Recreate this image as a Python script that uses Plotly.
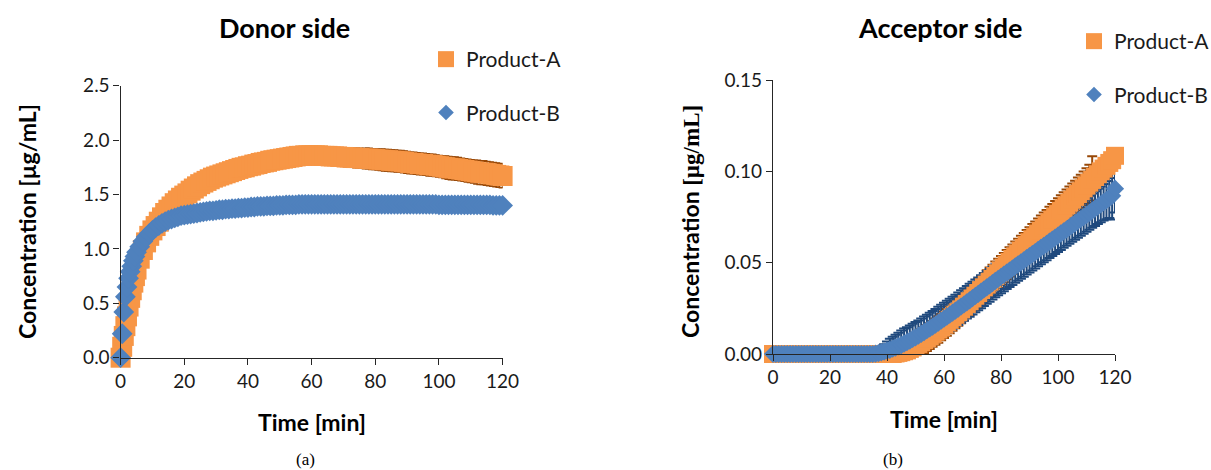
import plotly.graph_objects as go

# ---------------- data ----------------
time_donor = [0, 0.5, 1, 1.5, 2, 2.5, 3, 3.5, 4, 4.5] + list(range(5, 121))

donor_a = [
    0.00, 0.10, 0.20, 0.29, 0.38, 0.47, 0.55, 0.62, 0.69, 0.75,
    0.81, 0.91, 0.99, 1.06, 1.12, 1.17, 1.21, 1.25, 1.29, 1.33,
    1.36, 1.39, 1.42, 1.445, 1.47, 1.49, 1.51, 1.535, 1.555, 1.575,
    1.595, 1.61, 1.625, 1.64, 1.655, 1.665, 1.675, 1.685, 1.695, 1.705,
    1.715, 1.725, 1.735, 1.745, 1.75, 1.76, 1.765, 1.775, 1.78, 1.79,
    1.795, 1.80, 1.81, 1.815, 1.82, 1.825, 1.83, 1.835, 1.84, 1.845,
    1.85, 1.855, 1.855, 1.86, 1.86, 1.86, 1.86, 1.86, 1.855, 1.855,
    1.855, 1.85, 1.85, 1.85, 1.845, 1.845, 1.84, 1.84, 1.84, 1.835,
    1.835, 1.83, 1.83, 1.83, 1.825, 1.825, 1.82, 1.82, 1.815, 1.815,
    1.81, 1.81, 1.805, 1.805, 1.80, 1.795, 1.79, 1.79, 1.785, 1.78,
    1.78, 1.775, 1.77, 1.77, 1.765, 1.76, 1.755, 1.75, 1.745, 1.74,
    1.74, 1.735, 1.73, 1.725, 1.72, 1.715, 1.71, 1.705, 1.70, 1.70,
    1.695, 1.69, 1.685, 1.68, 1.675, 1.67,
]
donor_a_err = [
    0.02, 0.03, 0.03, 0.04, 0.04, 0.04, 0.05, 0.05, 0.05, 0.05,
    0.05, 0.05, 0.05, 0.05, 0.05, 0.05, 0.05, 0.05, 0.05, 0.05,
    0.05, 0.05, 0.05, 0.05, 0.05, 0.05, 0.05, 0.05, 0.05, 0.05,
    0.05, 0.05, 0.05, 0.05, 0.05, 0.05, 0.05, 0.05, 0.05, 0.05,
    0.05, 0.055, 0.055, 0.055, 0.055, 0.06, 0.06, 0.06, 0.06, 0.06,
    0.06, 0.06, 0.06, 0.06, 0.065, 0.065, 0.065, 0.065, 0.065, 0.065,
    0.07, 0.07, 0.07, 0.07, 0.07, 0.07, 0.07, 0.075, 0.075, 0.075,
    0.075, 0.075, 0.08, 0.08, 0.08, 0.08, 0.085, 0.085, 0.085, 0.09,
    0.09, 0.09, 0.095, 0.095, 0.095, 0.095, 0.095, 0.10, 0.10, 0.10,
    0.10, 0.10, 0.10, 0.10, 0.10, 0.10, 0.10, 0.10, 0.10, 0.10,
    0.10, 0.10, 0.10, 0.10, 0.10, 0.10, 0.10, 0.105, 0.105, 0.105,
    0.105, 0.105, 0.105, 0.105, 0.105, 0.105, 0.105, 0.11, 0.11, 0.11,
    0.11, 0.11, 0.11, 0.11, 0.11, 0.11,
]
donor_b = [
    0.00, 0.22, 0.42, 0.56, 0.65, 0.73, 0.79, 0.84, 0.89, 0.93,
    0.97, 1.02, 1.07, 1.11, 1.14, 1.17, 1.195, 1.215, 1.235, 1.25,
    1.265, 1.275, 1.285, 1.295, 1.305, 1.31, 1.315, 1.32, 1.325, 1.33,
    1.335, 1.34, 1.345, 1.35, 1.35, 1.355, 1.36, 1.36, 1.365, 1.365,
    1.37, 1.37, 1.375, 1.375, 1.38, 1.38, 1.385, 1.385, 1.39, 1.39,
    1.39, 1.395, 1.395, 1.395, 1.40, 1.40, 1.40, 1.405, 1.405, 1.405,
    1.405, 1.41, 1.41, 1.41, 1.41, 1.41, 1.41, 1.41, 1.41, 1.41,
    1.41, 1.41, 1.41, 1.41, 1.41, 1.41, 1.41, 1.41, 1.41, 1.41,
    1.41, 1.41, 1.41, 1.41, 1.41, 1.41, 1.41, 1.41, 1.41, 1.41,
    1.41, 1.41, 1.41, 1.41, 1.41, 1.41, 1.41, 1.41, 1.41, 1.41,
    1.41, 1.41, 1.41, 1.41, 1.41, 1.405, 1.405, 1.405, 1.405, 1.405,
    1.405, 1.405, 1.405, 1.405, 1.405, 1.405, 1.405, 1.405, 1.405, 1.405,
    1.405, 1.405, 1.40, 1.40, 1.40, 1.40,
]
donor_b_err = [
    0.01, 0.02, 0.02, 0.03, 0.03, 0.03, 0.03, 0.03, 0.03, 0.03,
] + [0.04] * 116

time_acc = list(range(0, 121))

acc_a = [0.0] * 43 + [
    0.0003, 0.0006, 0.001, 0.0015, 0.002, 0.0028, 0.0036,
    0.0045, 0.0055, 0.0065, 0.0076, 0.0087, 0.0098, 0.011, 0.0122, 0.0134, 0.0147,
    0.016, 0.0173, 0.0187, 0.0201, 0.0215, 0.0229, 0.0244, 0.0259, 0.0274, 0.0289,
    0.0304, 0.0319, 0.0334, 0.035, 0.0365, 0.038, 0.0396, 0.0411, 0.0427, 0.0442,
    0.0458, 0.0473, 0.0489, 0.0504, 0.052, 0.0535, 0.055, 0.0566, 0.0581, 0.0597,
    0.0612, 0.0628, 0.0643, 0.0659, 0.0674, 0.069, 0.0705, 0.0721, 0.0736, 0.0752,
    0.0767, 0.0783, 0.0798, 0.0814, 0.0829, 0.0845, 0.086, 0.0876, 0.0891, 0.0907,
    0.0922, 0.0938, 0.0953, 0.0969, 0.0984, 0.1, 0.1015, 0.103, 0.1046, 0.1061,
    0.1085,
]
acc_a_err = [0.0] * 45 + [
    0.001, 0.002, 0.003, 0.004, 0.005, 0.006, 0.0065,
    0.007, 0.007, 0.007, 0.007, 0.007, 0.0072, 0.0072, 0.0072, 0.0073,
    0.0073, 0.0073, 0.0074, 0.0074, 0.0074, 0.0075, 0.0075, 0.0075, 0.0076, 0.0076,
    0.0076, 0.0077, 0.0077, 0.0077, 0.0078, 0.0078, 0.0078, 0.0079, 0.0079, 0.0079,
    0.008, 0.008, 0.008, 0.008, 0.0081, 0.0081, 0.0081, 0.0082, 0.0082, 0.0082,
    0.0083, 0.0083, 0.0083, 0.0084, 0.0084, 0.0084, 0.0085, 0.0085, 0.0085, 0.0086,
    0.0086, 0.0087, 0.0087, 0.0088, 0.0088, 0.0089, 0.009, 0.009, 0.0092, 0.0095,
    0.0098, 0.013,
]
acc_b = [0.0] * 36 + [
    0.0002, 0.0005, 0.0009, 0.0013, 0.0018, 0.0023, 0.0029, 0.0035, 0.0042, 0.0049,
    0.0057, 0.0065, 0.0073, 0.0082, 0.0091, 0.010, 0.011, 0.012, 0.013, 0.014,
    0.015, 0.016, 0.0171, 0.0182, 0.0193, 0.0204, 0.0215, 0.0226, 0.0237, 0.0248,
    0.026, 0.0271, 0.0283, 0.0294, 0.0306, 0.0318, 0.0329, 0.0341, 0.0353, 0.0365,
    0.0376, 0.0388, 0.040, 0.0411, 0.0423, 0.0434, 0.0446, 0.0457, 0.0468, 0.048,
    0.0491, 0.0502, 0.0513, 0.0525, 0.0536, 0.0547, 0.0558, 0.057, 0.0581, 0.0592,
    0.0603, 0.0615, 0.0626, 0.0637, 0.0648, 0.066, 0.0671, 0.0682, 0.0694, 0.0705,
    0.0716, 0.0728, 0.0739, 0.075, 0.0762, 0.0773, 0.0785, 0.0796, 0.0808, 0.0819,
    0.0831, 0.0842, 0.0854, 0.0866, 0.0905,
]
acc_b_err = [0.0] * 36 + [
    0.001, 0.002, 0.003, 0.004, 0.005, 0.006, 0.0065, 0.007, 0.0075, 0.008,
    0.0082, 0.0082, 0.0083, 0.0083, 0.0084, 0.0084, 0.0085, 0.0085, 0.0085, 0.0086,
    0.0086, 0.0086, 0.0087, 0.0087, 0.0087, 0.0088, 0.0088, 0.0088, 0.0088, 0.0089,
    0.0089, 0.0089, 0.0089, 0.009, 0.009, 0.009, 0.009, 0.009, 0.009, 0.009,
    0.009, 0.009, 0.009, 0.009, 0.009, 0.009, 0.009, 0.009, 0.009, 0.009,
    0.009, 0.009, 0.009, 0.009, 0.009, 0.009, 0.009, 0.009, 0.009, 0.009,
    0.009, 0.009, 0.009, 0.009, 0.009, 0.009, 0.009, 0.009, 0.009, 0.009,
    0.0091, 0.0091, 0.0092, 0.0092, 0.0093, 0.0093, 0.0094, 0.0095, 0.0096, 0.0098,
    0.010, 0.0105, 0.011, 0.013, 0.013,
]

series_names = ["Product-A", "Product-B"]
x_ticks = [0, 20, 40, 60, 80, 100, 120]
donor_y_ticks = [0.0, 0.5, 1.0, 1.5, 2.0, 2.5]
acc_y_ticks = [0.00, 0.05, 0.10, 0.15]

# ---------------- styling ----------------
W, H = 1211, 470
ORANGE = "#F79646"
BLUE = "#4F81BD"
ORANGE_DARK = "#984807"
BLUE_DARK = "#1F497D"
SANS = "Lato"
SERIF = "Liberation Serif"
AX = "#262626"


def px_x(p):
    return p / W


def px_y(p):
    return 1 - p / H


fig = go.Figure()


def add_panel(xa, ya, t, a, aerr, b, berr, sa, sb, legend_name, eth, ew):
    # error bars first (below all markers)
    for vals, errs, col in ((a, aerr, ORANGE_DARK), (b, berr, BLUE_DARK)):
        fig.add_trace(go.Scatter(
            x=t, y=vals, mode="markers", xaxis=xa, yaxis=ya,
            marker=dict(size=1, color="rgba(0,0,0,0)"),
            error_y=dict(type="data", array=errs, visible=True,
                         color=col, thickness=eth, width=ew),
            showlegend=False, hoverinfo="skip", cliponaxis=False,
        ))
    fig.add_trace(go.Scatter(
        x=t, y=a, mode="markers", xaxis=xa, yaxis=ya, name=series_names[0],
        marker=dict(symbol="square", size=sa, color=ORANGE, line=dict(width=0)),
        showlegend=False, cliponaxis=False,
    ))
    fig.add_trace(go.Scatter(
        x=t, y=b, mode="markers", xaxis=xa, yaxis=ya, name=series_names[1],
        marker=dict(symbol="diamond", size=sb, color=BLUE, line=dict(width=0)),
        showlegend=False, cliponaxis=False,
    ))
    # legend entries
    fig.add_trace(go.Scatter(
        x=[None], y=[None], mode="markers", xaxis=xa, yaxis=ya, name=series_names[0],
        marker=dict(symbol="square", size=16, color=ORANGE, line=dict(width=0)),
        legend=legend_name, legendgroup=legend_name + "a", showlegend=True,
    ))
    fig.add_trace(go.Scatter(
        x=[None], y=[None], mode="markers", xaxis=xa, yaxis=ya, name=series_names[1],
        marker=dict(symbol="diamond", size=12, color=BLUE, line=dict(width=0)),
        legend=legend_name, legendgroup=legend_name + "b", showlegend=True,
    ))


add_panel("x", "y", time_donor, donor_a, donor_a_err, donor_b, donor_b_err, 20, 16,
          "legend", 1.3, 4)
add_panel("x2", "y2", time_acc, acc_a, acc_a_err, acc_b, acc_b_err, 18, 14,
          "legend2", 2, 5)

axis_common = dict(showline=True, linecolor=AX, linewidth=1.3, ticks="outside",
                   tickcolor=AX, tickwidth=1.3, ticklen=6, showgrid=False,
                   zeroline=False, automargin=False,
                   tickfont=dict(family=SANS, size=19, color="#1a1a1a"))

legend_common = dict(bgcolor="rgba(0,0,0,0)", borderwidth=0, tracegroupgap=23,
                     font=dict(family=SANS, size=21, color="#1a1a1a"),
                     xanchor="left", yanchor="top", itemclick=False)

fig.update_layout(
    width=W, height=H,
    margin=dict(l=0, r=0, t=0, b=0, autoexpand=False),
    paper_bgcolor="white", plot_bgcolor="white",
    xaxis=dict(domain=[px_x(120.6), px_x(502.6)], range=[0, 120], tickvals=x_ticks,
               anchor="y", **axis_common),
    yaxis=dict(domain=[px_y(357.7), px_y(85.7)], range=[0, 2.5], tickvals=donor_y_ticks,
               tickformat=".1f", anchor="x", **axis_common),
    xaxis2=dict(domain=[px_x(773), px_x(1115)], range=[0, 120], tickvals=x_ticks,
                anchor="y2", **axis_common),
    yaxis2=dict(domain=[px_y(354), px_y(80)], range=[0, 0.15], tickvals=acc_y_ticks,
                tickformat=".2f", anchor="x2", **axis_common),
    legend=dict(x=px_x(426), y=px_y(39), **legend_common),
    legend2=dict(x=px_x(1074), y=px_y(21), **legend_common),
    showlegend=True,
)

annotations = [
    dict(text="<b>Donor side</b>", x=px_x(284), y=px_y(28), font=dict(family=SANS, size=27, color="black")),
    dict(text="<b>Acceptor side</b>", x=px_x(940), y=px_y(28), font=dict(family=SANS, size=27, color="black")),
    dict(text="<b>Concentration [µg/mL]</b>", x=px_x(27), y=px_y(222), textangle=-90,
         font=dict(family=SANS, size=23, color="black")),
    dict(text="<b>Concentration <span style='font-family:Liberation Serif'>[µg/mL]</span></b>",
         x=px_x(690), y=px_y(222), textangle=-90, font=dict(family=SANS, size=23, color="black")),
    dict(text="<b>Time [min]</b>", x=px_x(312), y=px_y(422), font=dict(family=SANS, size=23, color="black")),
    dict(text="<b>Time [min]</b>", x=px_x(944), y=px_y(419), font=dict(family=SANS, size=23, color="black")),
    dict(text="(a)", x=px_x(305), y=px_y(459), font=dict(family=SERIF, size=17, color="black")),
    dict(text="(b)", x=px_x(893), y=px_y(459), font=dict(family=SERIF, size=17, color="black")),
]
for a in annotations:
    a.update(xref="paper", yref="paper", showarrow=False, xanchor="center", yanchor="middle")
fig.update_layout(annotations=annotations)

fig.write_html(
    "out.html",
    config={"displayModeBar": False},
    post_script="document.body.style.margin='0px';document.body.style.padding='0px';",
)
